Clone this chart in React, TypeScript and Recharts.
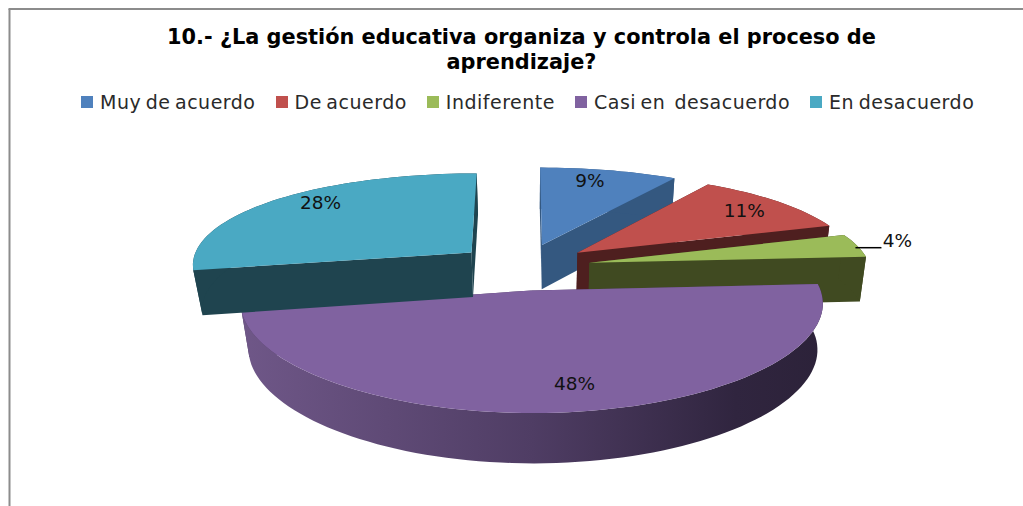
import React from 'react';
import { PieChart, Pie, Legend } from 'recharts';

const title = ['10.- ¿La gestión educativa organiza y controla el proceso de', 'aprendizaje?'];
const categories = ['Muy de acuerdo', 'De acuerdo', 'Indiferente', 'Casi en  desacuerdo', 'En desacuerdo'];
const values = [9, 11, 4, 48, 28];

const topColors = ['#4f81bd', '#c0504d', '#9bbb59', '#8062a0', '#4aa9c3'];
const wallColors = ['#345880', '#4e1f1f', '#404a21', '#4c3a60', '#1f444f'];
const explode = [70, 70, 68, 67, 68];
const labelOffsets = [[48, -64], [167, -42], [308, -22], [43, 93], [-151, -50]];

const W = 1023;
const H = 506;
const CX = 523;
const CY = 267;
const K = 0.34; // tilt
const PERSP = 0.00055;
const DEPTH = 45;

const rad = (d: number) => (d * Math.PI) / 180;

// ground plane -> screen, level 0 is the top face and 1 the bottom one
function project(X: number, Z: number, level: number) {
  const p = 1 / (1 + PERSP * Z);
  const sx = level ? (X < 0 ? 0.972 : 0.982) : 1;
  return [CX + X * Math.pow(p, 0.75) * sx, CY - K * Z * p + level * DEPTH * (0.5 + 0.5 * p)];
}

const toPath = (pts: number[][]) =>
  'M' + pts.map((q) => q[0].toFixed(1) + ' ' + q[1].toFixed(1)).join('L') + 'Z';

function Slice3D(props: any) {
  const { startAngle, endAngle, midAngle, outerRadius, index, fill } = props;
  const e = explode[index];
  const ex = e * Math.cos(rad(midAngle));
  const ez = e * Math.sin(rad(midAngle));
  const at = (ang: number, r: number, level: number) =>
    project(ex + r * Math.cos(rad(ang)), ez + r * Math.sin(rad(ang)), level);

  const angles: number[] = [];
  const steps = Math.max(4, Math.ceil(Math.abs(endAngle - startAngle) / 2));
  for (let i = 0; i <= steps; i++) angles.push(startAngle + ((endAngle - startAngle) * i) / steps);

  const topArc = angles.map((a) => at(a, outerRadius, 0));
  const botArc = angles.map((a) => at(a, outerRadius, 1));
  const apexTop = at(0, 0, 0);
  const apexBot = at(0, 0, 1);
  const wall = wallColors[index];
  const gradId = 'wall-' + index;
  const isFront = index === 3;

  return (
    <g>
      {isFront && (
        <defs>
          <linearGradient id={gradId} x1="0" y1="0" x2="1" y2="0">
            <stop offset="0" stopColor="#6f5788" />
            <stop offset="0.5" stopColor="#4f3d64" />
            <stop offset="0.85" stopColor="#30253f" />
            <stop offset="1" stopColor="#2c2239" />
          </linearGradient>
        </defs>
      )}
      <path d={toPath([apexTop, topArc[0], botArc[0], apexBot])} fill={wall} />
      <path d={toPath([apexTop, topArc[steps], botArc[steps], apexBot])} fill={wall} />
      <path
        d={toPath([...topArc, ...[...botArc].reverse()])}
        fill={isFront ? `url(#${gradId})` : wall}
      />
      <path d={toPath([apexTop, ...topArc])} fill={fill} />
    </g>
  );
}

function SliceLabel(props: any) {
  const { midAngle, index, value } = props;
  const e = explode[index];
  const apex = project(e * Math.cos(rad(midAngle)), e * Math.sin(rad(midAngle)), 0);
  const x = apex[0] + labelOffsets[index][0];
  const y = apex[1] + labelOffsets[index][1];
  return (
    <g>
      {index === 2 && <line x1={x - 42} y1={y + 7} x2={x - 16} y2={y + 7} stroke="#000" strokeWidth={1.5} />}
      <text
        x={x}
        y={y}
        textAnchor="middle"
        dominantBaseline="central"
        fontFamily="DejaVu Sans"
        fontSize={18.5}
        fill="#111"
      >
        {value}%
      </text>
    </g>
  );
}

function LegendRow() {
  return (
    <div
      style={{
        display: 'flex',
        gap: 20,
        fontFamily: 'DejaVu Sans',
        fontSize: 19,
        letterSpacing: 0.5,
        wordSpacing: -2,
        color: '#2a2a2a',
        whiteSpace: 'pre',
      }}
    >
      {categories.map((c, i) => (
        <div key={c} style={{ display: 'flex', alignItems: 'center', gap: 7 }}>
          <span style={{ width: 12, height: 12, background: topColors[i], display: 'inline-block' }} />
          <span>{c}</span>
        </div>
      ))}
    </div>
  );
}

const tableData = categories.map((name, i) => ({ name, value: values[i], fill: topColors[i] }));

export default function App() {
  return (
    <div style={{ position: 'absolute', left: 0, top: 0, width: W, height: H, background: '#fff' }}>
      <PieChart width={W} height={H} margin={{ top: 0, right: 0, bottom: 0, left: 0 }}>
        <line x1={9.5} y1={9} x2={9.5} y2={H} stroke="#8c8c8c" strokeWidth={2} />
        <line x1={8.5} y1={9} x2={W} y2={9} stroke="#8c8c8c" strokeWidth={2} />
        {title.map((t, i) => (
          <text
            key={t}
            x={521.5}
            y={44 + i * 25}
            textAnchor="middle"
            fontFamily="DejaVu Sans"
            fontWeight="bold"
            fontSize={20.85}
            fill="#000"
          >
            {t}
          </text>
        ))}
        <Pie
          data={tableData}
          dataKey="value"
          nameKey="name"
          cx={CX}
          cy={CY}
          outerRadius={281}
          startAngle={90}
          endAngle={-270}
          stroke="none"
          shape={Slice3D}
          label={SliceLabel}
          labelLine={false}
          isAnimationActive={false}
        />
        <Legend
          content={<LegendRow />}
          wrapperStyle={{ position: 'absolute', left: 81, top: 91, width: 930, height: 24 }}
        />
      </PieChart>
    </div>
  );
}
